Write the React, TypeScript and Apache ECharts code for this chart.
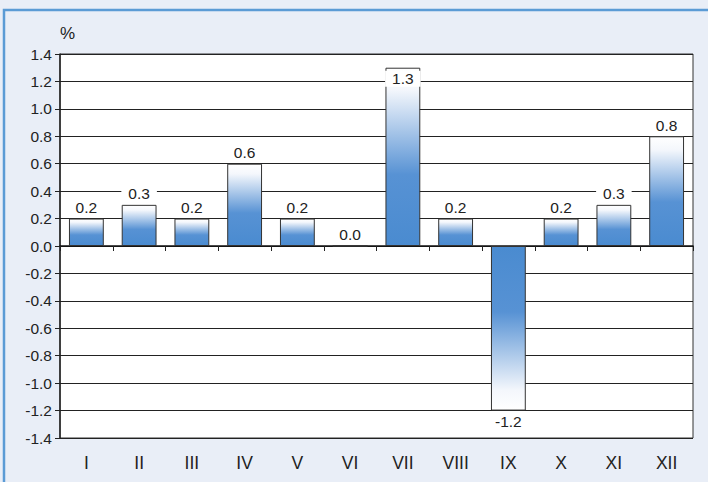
import React, { useEffect, useRef } from "react";
import * as echarts from "echarts";

const categories = ["I", "II", "III", "IV", "V", "VI", "VII", "VIII", "IX", "X", "XI", "XII"];
const values = [0.2, 0.3, 0.2, 0.6, 0.2, 0.0, 1.3, 0.2, -1.2, 0.2, 0.3, 0.8];
const unitLabel = "%";

export default function App() {
  const ref = useRef<HTMLDivElement>(null);
  useEffect(() => {
    if (!ref.current) return;
    const chart = echarts.init(ref.current, null, { renderer: "svg" });
    const font = "Liberation Sans";
    const blue = "#4a8bd0";
    const stops = [
      { offset: 0, color: "#ffffff" },
      { offset: 0.12, color: "#f4f7fc" },
      { offset: 0.6, color: "#5792d4" },
      { offset: 1, color: blue },
    ];
    const posGrad = new echarts.graphic.LinearGradient(0, 0, 0, 1, stops);
    const negGrad = new echarts.graphic.LinearGradient(0, 1, 0, 0, stops);
    const data = values.map((v) => ({
      value: v,
      itemStyle: { color: v >= 0 ? posGrad : negGrad },
      label: {
        position: v < 0 ? "bottom" : v >= 1.2 ? "insideTop" : "top",
      },
    }));
    chart.setOption({
      animation: false,
      backgroundColor: "#e9eef7",
      textStyle: { fontFamily: font },
      graphic: [
        {
          type: "rect",
          shape: { x: 4, y: 10, width: 760, height: 520 },
          style: { fill: "none", stroke: "#5b9bd5", lineWidth: 2.5 },
          silent: true,
        },
        {
          type: "text",
          left: 60,
          top: 25,
          style: { text: unitLabel, fontSize: 17, fontFamily: font, fill: "#222" },
        },
      ],
      grid: {
        left: 60,
        right: 15,
        top: 54,
        bottom: 44,
        show: true,
        backgroundColor: "#ffffff",
        borderColor: "#333",
        borderWidth: 1,
      },
      xAxis: [
        {
          type: "category",
          data: categories,
          position: "bottom",
          axisLine: { onZero: true, lineStyle: { color: "#111", width: 1.5 } },
          axisTick: { show: true, length: 5, lineStyle: { color: "#222" } },
          axisLabel: { show: false },
        },
        {
          type: "category",
          data: categories,
          position: "bottom",
          axisLine: { show: false, onZero: false },
          axisTick: { show: false },
          axisLabel: { show: true, color: "#222", fontSize: 17.5, fontFamily: font, margin: 16 },
        },
      ],
      yAxis: {
        type: "value",
        min: -1.4,
        max: 1.4,
        interval: 0.2,
        axisLine: { show: true, lineStyle: { color: "#222", width: 1.5 } },
        axisTick: { show: true, length: 5, lineStyle: { color: "#222" } },
        axisLabel: {
          color: "#222",
          fontSize: 15.5,
          fontFamily: font,
          margin: 8,
          formatter: (v: number) => v.toFixed(1),
        },
        splitLine: { show: true, lineStyle: { color: "#222", width: 1 } },
      },
      series: [
        {
          type: "bar",
          xAxisIndex: 0,
          data,
          barWidth: "66%",
          itemStyle: { borderColor: "#333", borderWidth: 1 },
          label: {
            show: true,
            color: "#222",
            fontSize: 15.5,
            fontFamily: font,
            backgroundColor: "#ffffff",
            padding: [0, 7],
            distance: 3,
            formatter: (p: any) => Number(p.value).toFixed(1),
          },
        },
      ],
    });
    return () => chart.dispose();
  }, []);
  return (
    <div
      ref={ref}
      style={{ position: "fixed", left: 0, top: 0, width: 708, height: 482 }}
    />
  );
}
